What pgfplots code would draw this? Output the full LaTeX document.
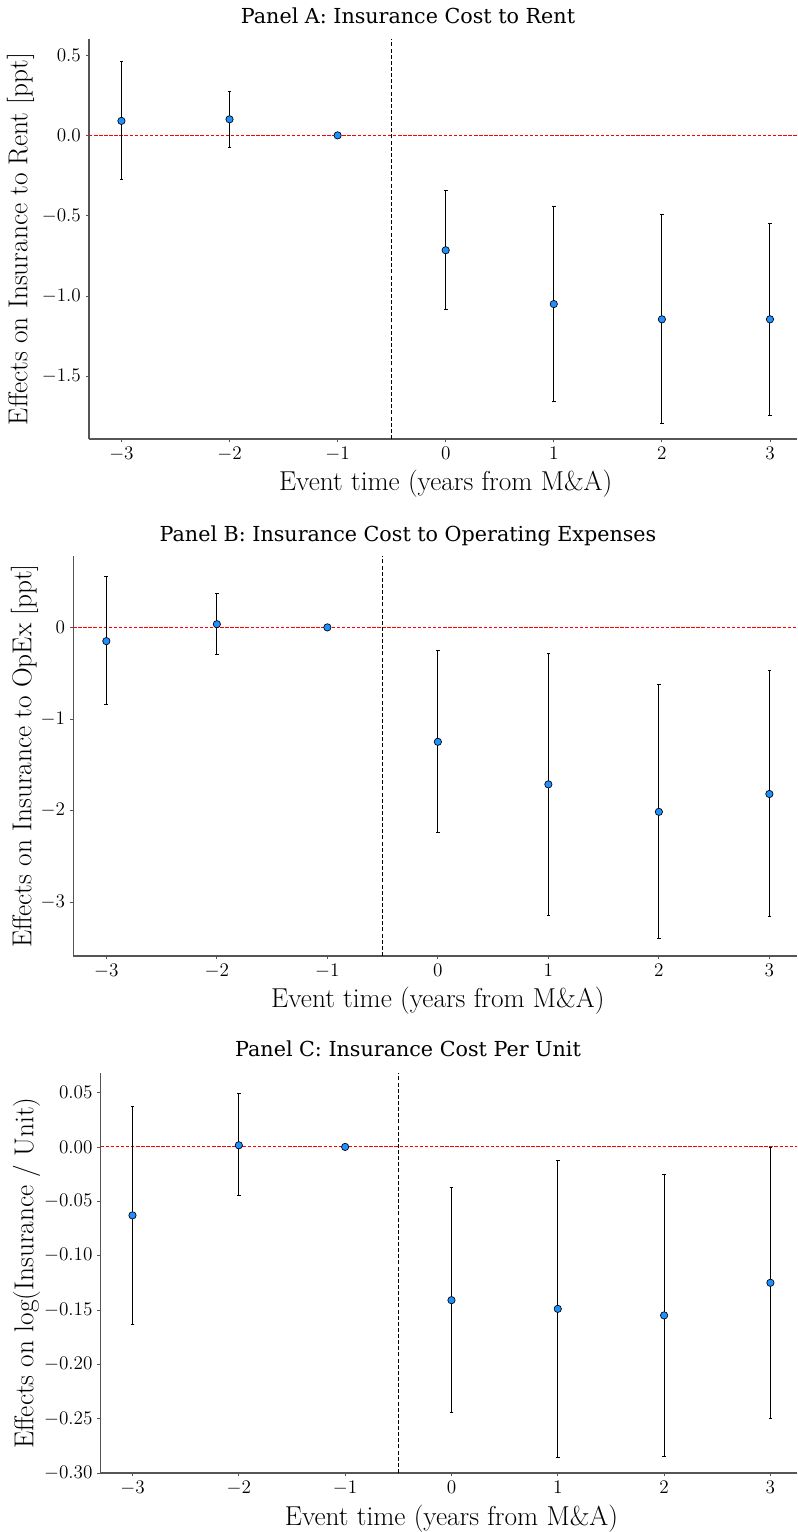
\documentclass[border=0pt]{standalone}
\usepackage{fontspec}
\usepackage{pgfplots}
\pgfplotsset{compat=1.18}
\usepackage{pgfplotstable}
\newfontfamily\titlefont{DejaVu Serif}
\definecolor{ptblue}{RGB}{30,144,255}
\definecolor{spine}{RGB}{85,85,85}

\pgfplotstableread{
x y lo hi
-3 0.09 -0.275 0.46
-2 0.10 -0.075 0.275
-1 0 0 0
0 -0.715 -1.085 -0.34
1 -1.05 -1.655 -0.445
2 -1.145 -1.79 -0.49
3 -1.145 -1.745 -0.545
}\dataA
\pgfplotstableread{
x y lo hi
-3 -0.15 -0.845 0.56
-2 0.035 -0.29 0.37
-1 0 0 0
0 -1.25 -2.24 -0.255
1 -1.715 -3.15 -0.28
2 -2.015 -3.40 -0.62
3 -1.82 -3.16 -0.475
}\dataB
\pgfplotstableread{
x y lo hi
-3 -0.063 -0.163 0.037
-2 0.0015 -0.045 0.0495
-1 0 0 0
0 -0.141 -0.244 -0.037
1 -0.149 -0.286 -0.012
2 -0.155 -0.285 -0.025
3 -0.125 -0.2495 -0.0005
}\dataC

\pgfplotsset{
 evstyle/.style={
  scale only axis, height=300pt,
  xmin=-3.3, xmax=3.25,
  axis lines*=left,
  axis line style={spine, line width=0.8pt, -},
  tick align=outside, tick style={spine, line width=0.6pt}, major tick length=2.6pt,
  xtick={-3,...,3},
  tick label style={font=\fontsize{14.5}{17}\selectfont},
  label style={font=\fontsize{20.5}{24}\selectfont},
  xlabel={Event time (years from M\&A)},
  xlabel style={at={(axis description cs:0.5038,0)}, anchor=base, yshift=-39pt},
  clip=false,
 },
 zeroline/.style={draw=red, line width=0.75pt, dash pattern=on 2.6pt off 1.2pt},
 vline/.style={draw=black, line width=0.7pt, dash pattern=on 3pt off 1.6pt},
 pts/.style={only marks, mark=*, mark size=2.75pt,
   mark options={fill=ptblue, draw=black, line width=0.5pt},
   error bars/.cd, y dir=both, y explicit,
   error bar style={black, line width=0.75pt},
   error mark options={rotate=90, mark size=1.4pt, black, line width=0.6pt}},
}

\begin{document}
\begin{tikzpicture}
\useasboundingbox (0,0) rectangle (597.75pt,1149pt);

% Panel A
\begin{axis}[evstyle, at={(66.75pt,819.75pt)}, anchor=south west, width=531pt,
  ymin=-1.89, ymax=0.6, ytick={-1.5,-1,-0.5,0,0.5},
  yticklabel style={/pgf/number format/fixed, /pgf/number format/precision=1, /pgf/number format/fixed zerofill},
  ylabel={Effects on Insurance to Rent [ppt]},
  ylabel style={at={(axis description cs:-0.0968,0.5)}, anchor=center}]
\addplot[zeroline] coordinates {(-3.3,0) (3.25,0)};
\addplot[vline] coordinates {(-0.5,-1.89) (-0.5,0.6)};
\addplot[pts] table[x=x, y=y, y error plus expr=\thisrow{hi}-\thisrow{y}, y error minus expr=\thisrow{y}-\thisrow{lo}] {\dataA};
\end{axis}

% Panel B
\begin{axis}[evstyle, at={(54.9pt,432pt)}, anchor=south west, width=542.85pt,
  ymin=-3.59, ymax=0.78, ytick={-3,-2,-1,0},
  ylabel={Effects on Insurance to OpEx [ppt]},
  ylabel style={at={(axis description cs:-0.0673,0.5)}, anchor=center}]
\addplot[zeroline] coordinates {(-3.3,0) (3.25,0)};
\addplot[vline] coordinates {(-0.5,-3.59) (-0.5,0.78)};
\addplot[pts] table[x=x, y=y, y error plus expr=\thisrow{hi}-\thisrow{y}, y error minus expr=\thisrow{y}-\thisrow{lo}] {\dataB};
\end{axis}

% Panel C
\begin{axis}[evstyle, at={(75.45pt,44.25pt)}, anchor=south west, width=522.3pt,
  ymin=-0.30, ymax=0.068, ytick={-0.3,-0.25,-0.2,-0.15,-0.1,-0.05,0,0.05},
  yticklabel style={/pgf/number format/fixed, /pgf/number format/precision=2, /pgf/number format/fixed zerofill},
  ylabel={Effects on log(Insurance / Unit)},
  ylabel style={at={(axis description cs:-0.1064,0.5)}, anchor=center}]
\addplot[zeroline] coordinates {(-3.3,0) (3.25,0)};
\addplot[vline] coordinates {(-0.5,-0.30) (-0.5,0.068)};
\addplot[pts] table[x=x, y=y, y error plus expr=\thisrow{hi}-\thisrow{y}, y error minus expr=\thisrow{y}-\thisrow{lo}] {\dataC};
\end{axis}

\node[anchor=base, font=\titlefont\fontsize{15.5}{18}\selectfont] at (306pt,1131pt) {Panel A: Insurance Cost to Rent};
\node[anchor=base, font=\titlefont\fontsize{15.5}{18}\selectfont] at (306pt,742.5pt) {Panel B: Insurance Cost to Operating Expenses};
\node[anchor=base, font=\titlefont\fontsize{15.5}{18}\selectfont] at (306pt,356.25pt) {Panel C: Insurance Cost Per Unit};
\end{tikzpicture}
\end{document}
